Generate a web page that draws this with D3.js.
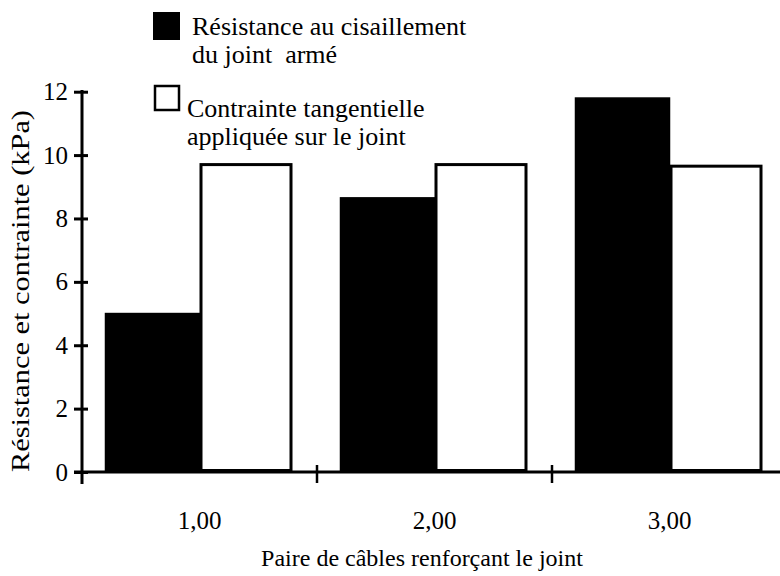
<!DOCTYPE html>
<html>
<head>
<meta charset="utf-8">
<script src="https://cdn.jsdelivr.net/npm/d3@7"></script>
<style>
  html, body { margin: 0; padding: 0; background: #fff; }
  svg { display: block; }
</style>
</head>
<body>
<svg id="chart" width="780" height="576"></svg>
<script>
// Number of cable pairs reinforcing the joint
const categories = ["1,00", "2,00", "3,00"];
// Shear resistance of the reinforced joint (kPa)
const resistance = [5.0, 8.65, 11.8];
// Shear stress applied on the joint (kPa)
const contrainte = [9.7, 9.7, 9.65];
const yTicks = [0, 2, 4, 6, 8, 10, 12];
const seriesKeys = ["resistance", "contrainte"];
const legendLines = [
  ["Résistance au cisaillement", "du joint  armé"],
  ["Contrainte tangentielle", "appliquée sur le joint"]
];
const xTitle = "Paire de câbles renforçant le joint";
const yTitle = "Résistance et contrainte (kPa)";

const FONT = "'Liberation Serif', 'Times New Roman', Times, serif";

const svg = d3.select("#chart");
const baseY = 472;

const y = d3.scaleLinear().domain([0, 12]).range([baseY, 91.7]);
const x0 = d3.scaleBand().domain(categories).range([82, 787])
  .paddingInner(0.2).paddingOuter(0.1);
const x1 = d3.scaleBand().domain(seriesKeys).range([0, x0.bandwidth()]);

const rows = categories.map((c, i) => ({ cat: c, resistance: resistance[i], contrainte: contrainte[i] }));

// bars
const groups = svg.append("g").selectAll("g").data(rows).join("g")
  .attr("transform", d => `translate(${x0(d.cat)},0)`);

groups.append("rect")
  .attr("x", x1("resistance"))
  .attr("y", d => y(d.resistance))
  .attr("width", x1.bandwidth())
  .attr("height", d => baseY - y(d.resistance))
  .attr("fill", "#000").attr("stroke", "#000").attr("stroke-width", 1.5);

groups.append("rect")
  .attr("x", x1("contrainte") + 1.5)
  .attr("y", d => y(d.contrainte))
  .attr("width", x1.bandwidth() - 4)
  .attr("height", d => baseY - y(d.contrainte) - 1.5)
  .attr("fill", "#fff").attr("stroke", "#000").attr("stroke-width", 3);

// y axis
const yAxis = svg.append("g").attr("transform", "translate(82,0)")
  .call(d3.axisLeft(y).tickValues(yTicks).tickSize(8).tickPadding(6).tickFormat(d3.format("d")));
yAxis.attr("font-family", null).attr("font-size", null);
yAxis.select(".domain").remove();
yAxis.selectAll(".tick line").attr("x1", -8).attr("x2", 6).attr("stroke", "#000").attr("stroke-width", 3);
yAxis.selectAll(".tick text").style("font-family", FONT).style("font-size", "25px").attr("fill", "#000");
yAxis.append("line").attr("x1", 0).attr("x2", 0).attr("y1", 90).attr("y2", 484)
  .attr("stroke", "#000").attr("stroke-width", 3);

// x axis: category labels at group centres
const xAxis = svg.append("g").attr("transform", `translate(0,${baseY})`)
  .call(d3.axisBottom(x0).tickSize(0).tickPadding(39));
xAxis.attr("font-family", null).attr("font-size", null);
xAxis.select(".domain").remove();
xAxis.selectAll(".tick text").style("font-family", FONT).style("font-size", "25px").attr("fill", "#000");
xAxis.append("line").attr("x1", 74).attr("x2", 780).attr("y1", 0).attr("y2", 0)
  .attr("stroke", "#000").attr("stroke-width", 3);
// separators between groups
xAxis.selectAll(".sep").data(categories.slice(1)).join("line")
  .attr("class", "sep")
  .attr("x1", d => x0(d) - x0.step() * x0.paddingInner() / 2)
  .attr("x2", d => x0(d) - x0.step() * x0.paddingInner() / 2)
  .attr("y1", -7).attr("y2", 11)
  .attr("stroke", "#000").attr("stroke-width", 2.5);

// axis titles
svg.append("text").attr("x", 422).attr("y", 566).attr("text-anchor", "middle")
  .style("font-family", FONT).style("font-size", "24px").text(xTitle);
svg.append("text").attr("transform", "translate(29,291) rotate(-90)")
  .attr("text-anchor", "middle").style("font-family", FONT).style("font-size", "25px")
  .attr("textLength", 362).attr("lengthAdjust", "spacingAndGlyphs").text(yTitle);

// legend
svg.append("rect").attr("x", 153).attr("y", 12).attr("width", 27).attr("height", 28).attr("fill", "#000");
svg.append("rect").attr("x", 155).attr("y", 86).attr("width", 24).attr("height", 24)
  .attr("fill", "#fff").attr("stroke", "#000").attr("stroke-width", 2.5);
const legendPos = [{ x: 192, ys: [35, 63] }, { x: 187, ys: [117, 145] }];
legendLines.forEach((lines, i) => {
  lines.forEach((t, j) => {
    svg.append("text").attr("x", legendPos[i].x).attr("y", legendPos[i].ys[j])
      .style("font-family", FONT).style("font-size", "26px").style("white-space", "pre").text(t);
  });
});
</script>
</body>
</html>
